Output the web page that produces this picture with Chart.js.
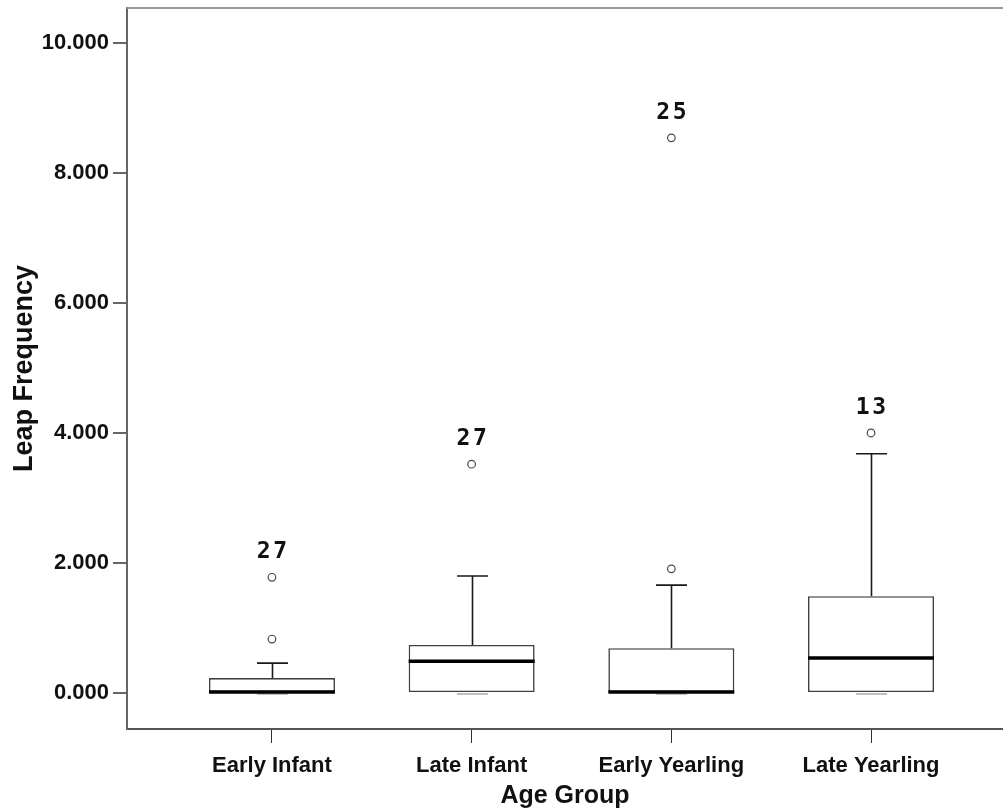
<!DOCTYPE html>
<html>
<head>
<meta charset="utf-8">
<script src="https://cdn.jsdelivr.net/npm/chart.js@4.4.1/dist/chart.umd.min.js"></script>
<style>
  html, body { margin: 0; padding: 0; background: #ffffff; overflow: hidden; }
  #wrap { width: 1003px; height: 808px; position: relative; }
</style>
</head>
<body>
<div id="wrap"><canvas id="c"></canvas></div>
<script>
// Leap frequency by age group: five-number summaries and outliers
const groups       = ['Early Infant', 'Late Infant', 'Early Yearling', 'Late Yearling'];
const whiskerLow   = [0.00, 0.00, 0.00, 0.00];
const q1           = [0.00, 0.00, 0.00, 0.00];
const median       = [0.00, 0.49, 0.00, 0.54];
const q3           = [0.23, 0.74, 0.69, 1.49];
const whiskerHigh  = [0.46, 1.80, 1.66, 3.68];
const outliers     = [[0.83, 1.78], [3.52], [1.91, 8.54], [4.00]];
// case numbers printed above the most extreme outlier of each group
const outlierCase  = ['27', '27', '25', '13'];
const yTicks       = [0, 2, 4, 6, 8, 10];

const positions = groups.map((_, i) => i + 1);

const boxData = groups.map((g, i) => ({ x: positions[i], y: [q1[i], q3[i]] }));
const outlierPoints = [];
outliers.forEach((list, i) => list.forEach(v => outlierPoints.push({ x: positions[i], y: v })));

const SANS = '"Liberation Sans", Arial, Helvetica, sans-serif';
const CAP_HALF = 15.5;

const boxParts = {
  id: 'boxParts',
  beforeDatasetsDraw(chart) {
    const { ctx, scales: { x, y } } = chart;
    ctx.save();
    ctx.lineWidth = 1.6;
    groups.forEach((g, i) => {
      const cx = Math.round(x.getPixelForValue(positions[i])) + 0.5;
      const yHi = y.getPixelForValue(whiskerHigh[i]);
      const yQ3 = y.getPixelForValue(q3[i]);
      const yLo = y.getPixelForValue(whiskerLow[i]);
      const yQ1 = y.getPixelForValue(q1[i]);
      ctx.strokeStyle = '#1a1a1a';
      ctx.beginPath();
      ctx.moveTo(cx, yQ3); ctx.lineTo(cx, yHi);
      ctx.moveTo(cx - CAP_HALF, yHi); ctx.lineTo(cx + CAP_HALF, yHi);
      ctx.moveTo(cx, yQ1); ctx.lineTo(cx, yLo);
      ctx.stroke();
      ctx.strokeStyle = '#b0b0b0';
      ctx.beginPath();
      ctx.moveTo(cx - CAP_HALF, yLo + 1); ctx.lineTo(cx + CAP_HALF, yLo + 1);
      ctx.stroke();
    });
    ctx.restore();
  },
  afterDatasetsDraw(chart) {
    const { ctx, scales: { x, y } } = chart;
    const meta = chart.getDatasetMeta(0);
    ctx.save();
    // medians
    ctx.strokeStyle = '#000000';
    ctx.lineWidth = 3.5;
    groups.forEach((g, i) => {
      const bar = meta.data[i];
      const half = bar.width / 2;
      const lift = median[i] === q1[i] ? 1 : 0;
      const ym = y.getPixelForValue(median[i]) - lift;
      ctx.beginPath();
      ctx.moveTo(bar.x - half, ym);
      ctx.lineTo(bar.x + half, ym);
      ctx.stroke();
    });
    // case labels
    ctx.fillStyle = '#111111';
    ctx.font = 'bold 23px "DejaVu Sans Mono", monospace';
    ctx.textAlign = 'center';
    ctx.textBaseline = 'middle';
    groups.forEach((g, i) => {
      const top = Math.max(...outliers[i]);
      const cx = x.getPixelForValue(positions[i]);
      const cy = y.getPixelForValue(top) - 25;
      const chars = outlierCase[i].split('');
      const pitch = 16.5;
      chars.forEach((ch, k) => {
        ctx.fillText(ch, cx + (k - (chars.length - 1) / 2) * pitch, cy);
      });
    });
    ctx.restore();
  },
  afterDraw(chart) {
    const { ctx, chartArea } = chart;
    ctx.save();
    ctx.strokeStyle = '#9a9a9a';
    ctx.lineWidth = 2;
    ctx.beginPath();
    ctx.moveTo(chartArea.left, chartArea.top);
    ctx.lineTo(chartArea.right, chartArea.top);
    ctx.stroke();
    ctx.restore();
  }
};

new Chart(document.getElementById('c'), {
  type: 'bar',
  data: {
    datasets: [
      {
        type: 'bar',
        data: boxData,
        backgroundColor: '#ffffff',
        borderColor: '#404040',
        borderWidth: 1.6,
        borderSkipped: false,
        barPercentage: 0.631,
        categoryPercentage: 1.0,
        order: 2
      },
      {
        type: 'scatter',
        data: outlierPoints,
        pointStyle: 'circle',
        pointRadius: 3.8,
        pointBorderWidth: 1.2,
        pointBorderColor: '#4a4a4a',
        pointBackgroundColor: '#ffffff',
        order: 1
      }
    ]
  },
  options: {
    responsive: true,
    maintainAspectRatio: false,
    animation: false,
    layout: { autoPadding: false, padding: { top: 8, right: 0, bottom: 0, left: 0 } },
    plugins: { legend: { display: false }, tooltip: { enabled: false } },
    scales: {
      x: {
        type: 'linear',
        offset: false,
        min: 0.274,
        max: 4.661,
        afterBuildTicks(scale) { scale.ticks = positions.map(v => ({ value: v })); },
        afterFit(scale) { scale.height = 79; scale.paddingLeft = 0; scale.paddingRight = 0; },
        ticks: {
          autoSkip: false,
          maxRotation: 0,
          padding: 10,
          color: '#111111',
          font: { family: SANS, size: 22, weight: 'bold' },
          callback: (v) => groups[Math.round(v) - 1] || ''
        },
        grid: { offset: false, drawOnChartArea: false, drawTicks: true, tickLength: 14, tickColor: '#333333', lineWidth: 1 },
        border: { display: true, color: '#555555', width: 2 },
        title: {
          display: true,
          text: 'Age Group',
          color: '#111111',
          font: { family: SANS, size: 25, weight: 'bold', lineHeight: 1 },
          padding: { top: 0, bottom: -1 }
        }
      },
      y: {
        type: 'linear',
        min: -0.554,
        max: 10.538,
        afterBuildTicks(scale) { scale.ticks = yTicks.map(v => ({ value: v })); },
        afterFit(scale) { scale.width = 127; scale.paddingTop = 0; scale.paddingBottom = 0; },
        ticks: {
          padding: 4,
          color: '#111111',
          font: { family: SANS, size: 22, weight: 'bold' },
          callback: (v) => Number(v).toFixed(3)
        },
        grid: { drawOnChartArea: false, drawTicks: true, tickLength: 14, tickColor: '#666666', lineWidth: 2 },
        border: { display: true, color: '#666666', width: 2 },
        title: {
          display: true,
          text: 'Leap Frequency',
          color: '#111111',
          font: { family: SANS, size: 27, weight: 'bold', lineHeight: 1 },
          padding: { top: 11, bottom: 0 }
        }
      }
    }
  },
  plugins: [boxParts]
});
</script>
</body>
</html>
